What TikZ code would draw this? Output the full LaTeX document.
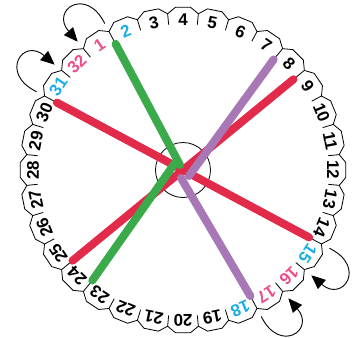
\documentclass[tikz,border=0pt]{standalone}
\usepackage{fontspec}
\setmainfont{Liberation Sans}
\usetikzlibrary{arrows.meta}

\definecolor{numpink}{HTML}{EE4D8B}
\definecolor{numcyan}{HTML}{1AAEE3}
\definecolor{chordred}{HTML}{E22B4A}
\definecolor{chordgreen}{HTML}{3BAA4A}
\definecolor{chordpurple}{HTML}{A777B6}

\tikzset{
  tab/.style={line width=0.8bp},
  num/.style={font=\fontsize{17}{17}\selectfont\bfseries, inner sep=0pt},
  chord/.style={line width=8bp, line cap=round},
  swap/.style={line width=0.9bp, -{Triangle[length=14bp,width=12bp]}},
}

\begin{document}
\begin{tikzpicture}[x=1bp,y=1bp]
  \useasboundingbox (-183,-168) rectangle (174,170);
  % the ring of numbered tabs
  \foreach \k/\c in {1/numpink,2/numcyan,3/black,4/black,5/black,6/black,7/black,8/black,
      9/black,10/black,11/black,12/black,13/black,14/black,15/numcyan,16/numpink,
      17/numpink,18/numcyan,19/black,20/black,21/black,22/black,23/black,24/black,
      25/black,26/black,27/black,28/black,29/black,30/black,31/numcyan,32/numpink}{
    \pgfmathsetmacro\ang{135-11.25*\k}
    \coordinate (b\k) at ({\ang-5.625}:143);
    \coordinate (o\k) at ({\ang-5.625}:166);
    \draw[tab] ({\ang+5.625}:157) -- ({\ang+2.6}:163) -- ({\ang-2.6}:163)
      -- ({\ang-5.625}:157) -- ({\ang-5.625}:146);
    \node[num,text=\c,rotate=\ang-90] (n\k) at (\ang:150) {\k};
  }
  \node[draw,circle,line width=0.8bp,minimum size=55bp] (hub) at (0,0) {};
  \coordinate (gA) at (-3,5);
  \coordinate (gB) at (-8,7);
  \coordinate (pA) at (6,-6);
  \coordinate (pB) at (-2,-8);
  % chords
  \draw[chord,chordred] (b30) -- (b14);
  \draw[chord,chordred] (b8) -- (b24);
  \draw[chord,chordgreen] (b1) -- (gA);
  \draw[chord,chordgreen] (b23) -- (gB);
  \draw[chord,chordpurple] (b7) -- (pA);
  \draw[chord,chordpurple] (b17) -- (pB);
  % swap arrows
  \draw[swap] (o1) .. controls +(116:42) and +(131:42) .. (o32);
  \draw[swap] (o30) .. controls +(154:42) and +(139:42) .. (o31);
  \draw[swap] (o14) .. controls +(-26:42) and +(-41:42) .. (o15);
  \draw[swap] (o17) .. controls +(-64:42) and +(-49:42) .. (o16);
\end{tikzpicture}
\end{document}
